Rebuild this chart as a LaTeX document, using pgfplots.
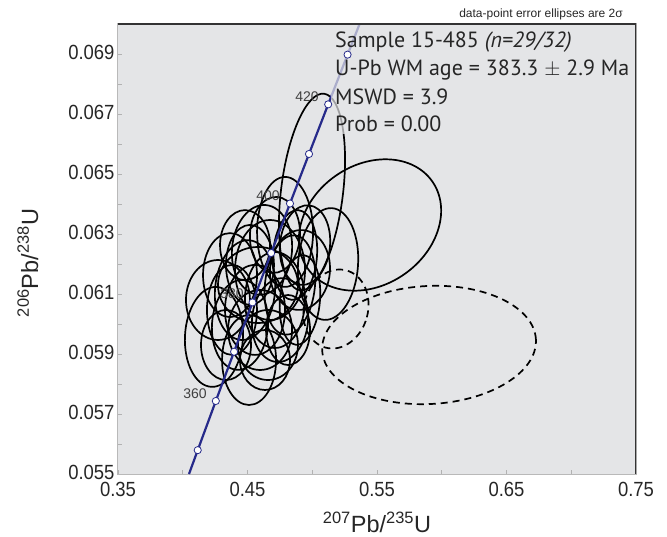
\documentclass[border=0pt]{standalone}
\usepackage{pgfplots}
\pgfplotsset{compat=1.18}
\usepackage{pgfplotstable}
\usepackage{fontspec}
\setmainfont{Liberation Sans}
\newfontfamily\annfont{PT Sans}
\newfontfamily\tickfont[FakeStretch=0.9]{Liberation Sans}
\definecolor{bgcol}{RGB}{228,229,231}
\definecolor{concol}{RGB}{38,42,138}
\tikzset{
  errsolid/.style={black, line width=1.7pt},
  errdashed/.style={black, line width=1.7pt, dash pattern=on 7pt off 5pt},
}

% error ellipses: centre, semi-axes (axis units), tilt (deg), rejected flag
\pgfplotstableread{
cx cy rx ry ang dash
0.4998 0.06440 0.02394 0.003300 -7 0
0.5446 0.06330 0.05869 0.002000 35 0
0.5122 0.06200 0.02317 0.001867 -4 0
0.4790 0.06307 0.02162 0.001833 0 0
0.4272 0.06080 0.02471 0.001333 0 0
0.4241 0.05957 0.02239 0.001667 -3 0
0.4512 0.05880 0.02085 0.001500 0 0
0.4612 0.06247 0.02317 0.001500 -5 0
0.4674 0.06180 0.02703 0.001667 0 0
0.4481 0.06113 0.02317 0.001667 -5 0
0.4558 0.06047 0.02317 0.001500 0 0
0.4442 0.05997 0.02162 0.001500 -4 0
0.4712 0.06080 0.02317 0.001600 0 0
0.4828 0.06130 0.01931 0.001667 -6 0
0.4365 0.06163 0.02085 0.001400 0 0
0.4597 0.05980 0.02471 0.001333 0 0
0.4751 0.06013 0.02162 0.001400 -5 0
0.4519 0.06197 0.01853 0.001333 0 0
0.4867 0.06230 0.01699 0.001500 -4 0
0.4380 0.06047 0.01931 0.001500 0 0
0.4658 0.05930 0.02317 0.001167 0 0
0.4905 0.06080 0.01544 0.001500 -5 0
0.4481 0.06263 0.01931 0.001167 0 0
0.4581 0.06130 0.03089 0.001267 0 0
0.4712 0.06297 0.01931 0.001267 -3 0
0.4334 0.05930 0.01931 0.001167 0 0
0.4813 0.05980 0.01699 0.001167 0 0
0.4635 0.05880 0.01931 0.001000 0 0
0.4905 0.06180 0.02317 0.001333 -4 0
0.4944 0.06263 0.01931 0.001333 -6 0
0.5183 0.06050 0.02471 0.001333 -15 1
0.5902 0.05930 0.08263 0.001967 3 1
}\ellipses

% concordia curve, 207Pb/235U vs 206Pb/238U
\pgfplotstableread{
x y
0.404837 0.0550000
0.411563 0.0557947
0.425533 0.0574338
0.439642 0.0590754
0.453890 0.0607195
0.468280 0.0623663
0.482812 0.0640155
0.497487 0.0656674
0.512308 0.0673218
0.527276 0.0689787
0.536556 0.0700000
}\concordia

% age markers every 10 Ma (350 ... 430)
\pgfplotstableread{
x y
0.411563 0.0557947
0.425533 0.0574338
0.439642 0.0590754
0.453890 0.0607195
0.468280 0.0623663
0.482812 0.0640155
0.497487 0.0656674
0.512308 0.0673218
0.527276 0.0689787
}\agemarks

\begin{document}
\begin{tikzpicture}
\path[use as bounding box] (0,0) rectangle (667pt,536pt);
\begin{axis}[
    name=ax,
    at={(118pt,62pt)}, anchor=south west,
    scale only axis, width=518pt, height=450pt,
    xmin=0.35, xmax=0.75, ymin=0.055, ymax=0.070,
    axis background/.style={fill=bgcol},
    axis line style={draw=gray!55, line width=1pt},
    tick pos=left, tick align=inside,
    xtick={0.35,0.45,0.55,0.65,0.75},
    minor xtick={0.40,0.50,0.60,0.70},
    ytick={0.055,0.057,0.059,0.061,0.063,0.065,0.067,0.069},
    minor ytick={0.056,0.058,0.060,0.062,0.064,0.066,0.068},
    major tick length=4pt, minor tick length=4pt,
    tick style={gray!60, line width=0.8pt},
    scaled ticks=false,
    /pgf/number format/assume math mode=true,
    ticklabel style={font=\tickfont\fontsize{20.5}{24}\selectfont, text=black!85},
    xticklabel style={yshift=-5pt, /pgf/number format/.cd, fixed, fixed zerofill, precision=2},
    yticklabel style={yshift=2pt, /pgf/number format/.cd, fixed, fixed zerofill, precision=3},
    xlabel={\textsuperscript{207}Pb/\textsuperscript{235}U},
    ylabel={\textsuperscript{206}Pb/\textsuperscript{238}U},
    label style={font=\fontsize{23.5}{27}\selectfont, text=black!85},
    xlabel style={at={(rel axis cs:0.5,-0.107)}, anchor=center},
    ylabel style={at={(rel axis cs:-0.174,0.469)}, anchor=center},
]
\pgfplotstablegetrowsof{\ellipses}
\pgfmathtruncatemacro{\lastrow}{\pgfplotsretval-1}
\pgfplotsforeachungrouped \i in {0,...,\lastrow}{%
  \pgfplotstablegetelem{\i}{cx}\of\ellipses \let\ecx\pgfplotsretval
  \pgfplotstablegetelem{\i}{cy}\of\ellipses \let\ecy\pgfplotsretval
  \pgfplotstablegetelem{\i}{rx}\of\ellipses \let\erx\pgfplotsretval
  \pgfplotstablegetelem{\i}{ry}\of\ellipses \let\ery\pgfplotsretval
  \pgfplotstablegetelem{\i}{ang}\of\ellipses \let\eang\pgfplotsretval
  \pgfplotstablegetelem{\i}{dash}\of\ellipses \let\edash\pgfplotsretval
  \edef\cmd{\noexpand\draw[\ifnum\edash=1 errdashed\else errsolid\fi,
    rotate around={\eang:(axis cs:\ecx,\ecy)}]
    (axis cs:\ecx,\ecy) ellipse [x radius=\erx, y radius=\ery];}%
  \cmd
}

\addplot[concol, line width=2.2pt, no marks] table {\concordia};
\addplot[only marks, mark=*, mark size=3.6pt,
  mark options={fill=white, draw=concol, line width=0.8pt}] table {\agemarks};

% age labels
\begin{scope}[every node/.style={font=\fontsize{14}{16}\selectfont, text=black!75}]
\node at (axis cs:0.4960,0.06757) {420};
\node at (axis cs:0.4658,0.06427) {400};
\node at (axis cs:0.4380,0.06100) {380};
\node at (axis cs:0.4095,0.05767) {360};
\end{scope}

% translucent panel behind the statistics
\fill[bgcol, opacity=0.7] (axis cs:0.5145,0.06633) rectangle (rel axis cs:1,1);
\begin{scope}[every node/.style={anchor=base west, inner sep=0pt,
    font=\annfont\fontsize{22}{26}\selectfont, text=black!85}]
\node at (axis cs:0.5176,0.06920) {Sample 15-485 \textit{(n=29/32)}};
\node at (axis cs:0.5176,0.06827) {U-Pb WM age = 383.3 $\pm$ 2.9 Ma};
\node at (axis cs:0.5176,0.06733) {MSWD = 3.9};
\node at (axis cs:0.5176,0.06643) {Prob = 0.00};
\end{scope}

\draw[black!80, line width=1.2pt] (rel axis cs:0,1) -- (rel axis cs:1,1) -- (rel axis cs:1,0);
\end{axis}
\node[anchor=base east, inner sep=0pt, xshift=-13pt, yshift=6pt,
  font=\fontsize{12}{14}\selectfont, text=black!85]
  at (ax.north east) {data-point error ellipses are 2σ};
\end{tikzpicture}
\end{document}
